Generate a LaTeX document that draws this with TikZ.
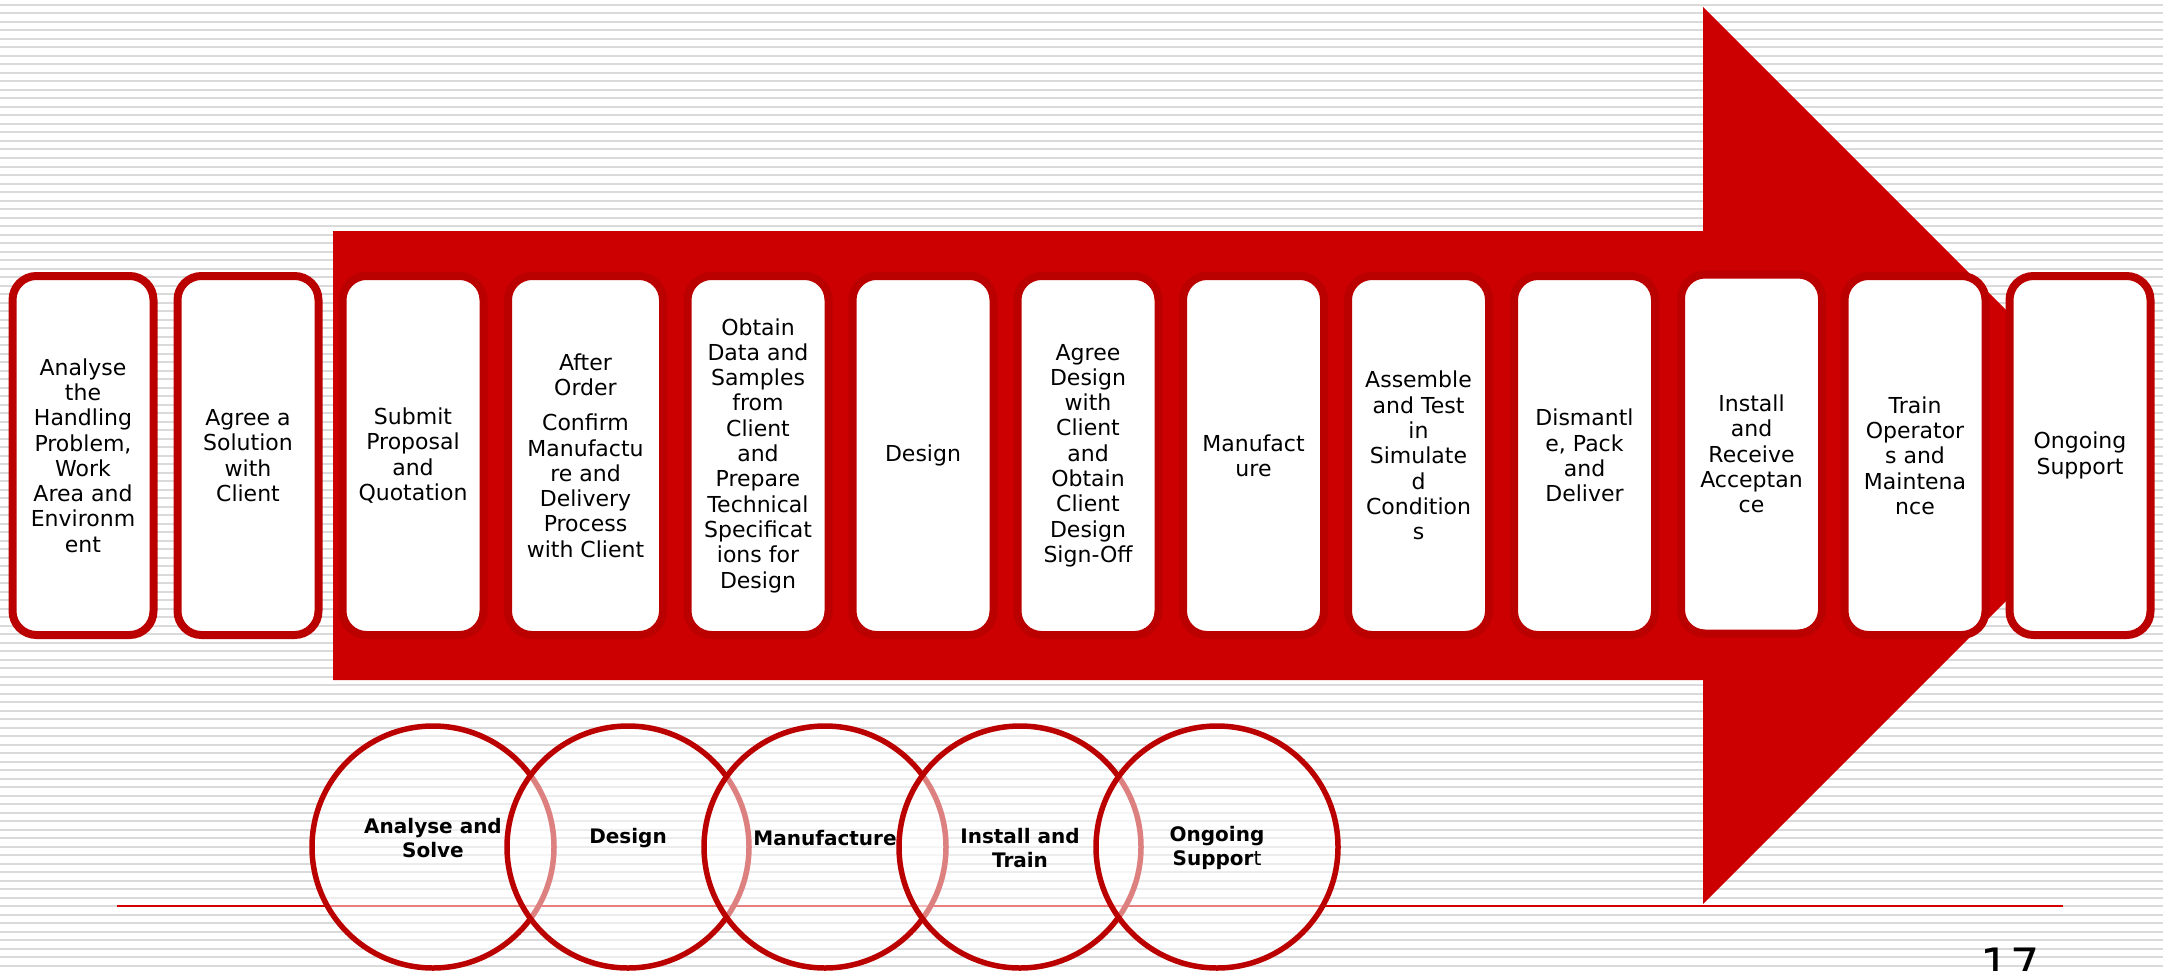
\documentclass[tikz,border=0pt]{standalone}
\usepackage{fontspec}
\setmainfont{DejaVu Sans}
\definecolor{arrowred}{RGB}{204,0,0}
\definecolor{edgered}{RGB}{187,0,0}
\definecolor{linered}{RGB}{210,0,0}
\definecolor{stripegray}{RGB}{218,218,218}
\begin{document}
\begin{tikzpicture}[x=1pt,y=-1pt,
  stepbox/.style={draw=edgered, line width=8pt, fill=white, rounded corners=24pt,
    minimum width=141pt, minimum height=359pt, inner sep=0pt, align=center,
    font=\fontsize{22}{25.3}\selectfont},
  widebox/.style={stepbox, minimum width=155pt},
  phase/.style={circle, draw=edgered, line width=5.5pt, fill=white, fill opacity=0.5,
    minimum size=242pt, inner sep=0pt},
  phaselabel/.style={align=center, inner sep=0pt, font=\bfseries\fontsize{20}{23.3}\selectfont},
  stripe/.style={stripegray, line width=2pt}]
% background
\fill[white] (0,0) rectangle (2163,971);
\useasboundingbox (0,0) rectangle (2163,971);
\foreach \k in {0,...,113}{
  \draw[stripe] (0,{5+8.5*\k}) -- (2163,{5+8.5*\k});
}
% big arrow
\fill[arrowred] (333,231) -- (1703,231) -- (1703,7) -- (2151.5,455.5)
  -- (1703,904) -- (1703,680) -- (333,680) -- cycle;
% step boxes
\node[stepbox] (b1) at (83,455.5) {Analyse\\the\\Handling\\Problem,\\Work\\Area and\\Environm\\ent};
\node[stepbox] (b2) at (248,455.5) {Agree a\\Solution\\with\\Client};
\node[stepbox] (b3) at (413,455.5) {Submit\\Proposal\\and\\Quotation};
\node[widebox] (b4) at (585.5,455.5) {After\\Order\\[10pt]Confirm\\Manufactu\\re and\\Delivery\\Process\\with Client};
\node[stepbox] (b5) at (758,455.5) {Obtain\\Data and\\Samples\\from\\Client\\and\\Prepare\\Technical\\Specificat\\ions for\\Design};
\node[stepbox] (b6) at (923,455.5) {Design};
\node[stepbox] (b7) at (1088,455.5) {Agree\\Design\\with\\Client\\and\\Obtain\\Client\\Design\\Sign-Off};
\node[stepbox] (b8) at (1253.5,455.5) {Manufact\\ure};
\node[stepbox] (b9) at (1418.5,455.5) {Assemble\\and Test\\in\\Simulate\\d\\Condition\\s};
\node[stepbox] (b10) at (1584.5,455.5) {Dismantl\\e, Pack\\and\\Deliver};
\node[stepbox] (b11) at (1751.5,454) {Install\\and\\Receive\\Acceptan\\ce};
\node[stepbox] (b12) at (1915,455.5) {Train\\Operator\\s and\\Maintena\\nce};
\node[stepbox] (b13) at (2080,455.5) {Ongoing\\Support};
% bottom rule
\coordinate (ruleL) at (117,906);
\coordinate (ruleR) at (2063,906);
\draw[linered, line width=1.5pt] (ruleL) -- (ruleR);
% phase circles
\node[phase] (c1) at (433,847) {};
\node[phase] (c2) at (628,847) {};
\node[phase] (c3) at (825,847) {};
\node[phase] (c4) at (1020,847) {};
\node[phase] (c5) at (1217,847) {};
\node[phaselabel] (t1) at (433,838) {Analyse and\\Solve};
\node[phaselabel] (t2) at (628,838) {Design};
\node[phaselabel] (t3) at (825,838) {Manufacture};
\node[phaselabel] (t4) at (1020,848) {Install and\\Train};
\node[phaselabel] (t5) at (1217,848) {Ongoing\\Suppor\mdseries t};
% page number
\node[anchor=base, inner sep=0pt, font=\fontsize{46}{46}\selectfont] (pg) at (2010,981) {17};
\end{tikzpicture}
\end{document}
